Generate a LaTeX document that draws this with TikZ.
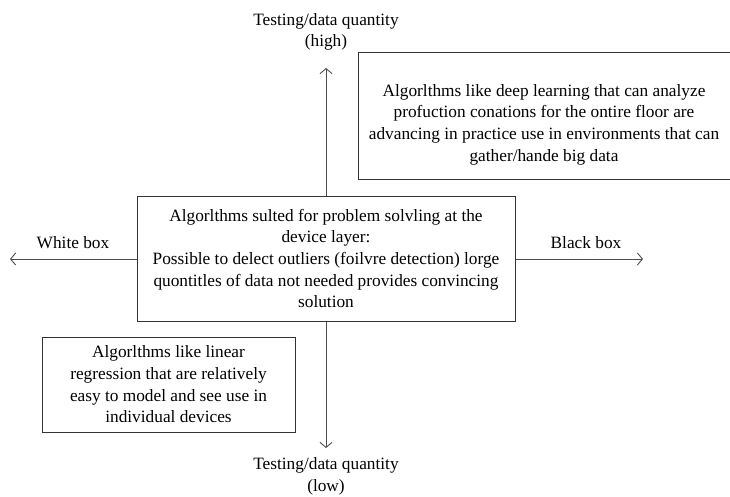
\documentclass[tikz,border=0pt]{standalone}
\usepackage{fontspec}
\setmainfont{Liberation Serif}
\usetikzlibrary{arrows.meta}
\begin{document}
\begin{tikzpicture}[x=1pt,y=-1pt,
  txt/.style={font=\fontsize{17.3}{21.7}\selectfont, align=center, inner sep=0pt},
  boxed/.style={txt, draw=black!80, line width=1pt, rectangle},
  axis/.style={draw=black!70, line width=0.9pt, -{Straight Barb[length=5pt,width=12pt]}}]
\useasboundingbox (0,0) rectangle (730,497);
\node[boxed, minimum width=378pt, minimum height=125pt] (c) at (326,258.5)
  {Algorlthms sulted for problem solvling at the\\ device layer:\\ Possible to delect outliers (foilvre detection) lorge\\ quontitles of data not needed provides convincing\\ solution};
\node[boxed, minimum width=373pt, minimum height=127pt, anchor=west] (tr) at (358,116.5) {};
\node[txt] (trt) at (544,124.5)
  {Algorlthms like deep learning that can analyze\\ profuction conations for the ontire floor are\\ advancing in practice use in environments that can\\ gather/hande big data};
\node[boxed, minimum width=253pt, minimum height=95pt] (bl) at (168.5,384.5)
  {Algorlthms like linear\\ regression that are relatively\\ easy to model and see use in\\ individual devices};
\node[txt] (hi) at (326,32) {Testing/data quantity\\ (high)};
\node[txt] (lo) at (326,476) {Testing/data quantity\\ (low)};
\node[txt] (wb) at (73,243) {White box};
\node[txt] (bb) at (586,243) {Black box};
\coordinate (up) at (326,68);
\coordinate (dn) at (326,448);
\coordinate (lf) at (10,259);
\coordinate (rt) at (643,259);
\draw[axis] (c.north) -- (up);
\draw[axis] (c.south) -- (dn);
\draw[axis] (c.west |- lf) -- (lf);
\draw[axis] (c.east |- rt) -- (rt);
\end{tikzpicture}
\end{document}
